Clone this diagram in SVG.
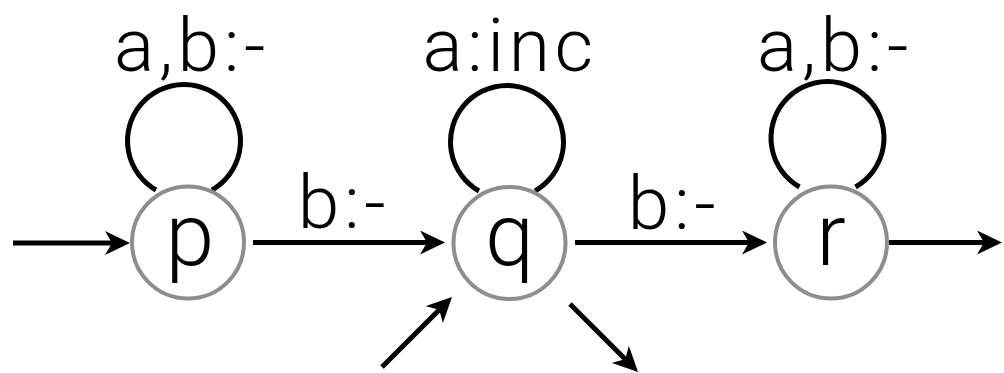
<svg xmlns="http://www.w3.org/2000/svg" width="1004" height="373" viewBox="0 0 1004 373">
<style>
.node{fill:#fff;stroke:#8c8e91;stroke-width:4}
.nl{font-family:Roboto,"Liberation Sans",Arial,sans-serif;font-weight:300;font-size:88px;fill:#000;text-anchor:middle}
.lbl{font-family:Roboto,"Liberation Sans",Arial,sans-serif;font-weight:300;font-size:75px;letter-spacing:4.5px;fill:#000;text-anchor:middle}
.edge{fill:none;stroke:#000;stroke-width:5}
</style>
<defs>
<marker id="ah" viewBox="0 0 25 24" refX="7" refY="12" markerWidth="25" markerHeight="24" markerUnits="userSpaceOnUse" orient="auto">
<path d="M0,0 L25,12 L0,24 L7,12 Z" fill="#000"/>
</marker>
</defs>
<g id="connectors">
<path class="edge" d="M156,190 A56.5,56.5 0 1 1 212,190"/>
<path class="edge" d="M479,191 A56.5,56.5 0 1 1 535,191"/>
<path class="edge" d="M799.5,187 A56.5,56.5 0 1 1 855.5,187"/>
<line class="edge" x1="13" y1="243" x2="112" y2="243" marker-end="url(#ah)"/>
<line class="edge" x1="253" y1="242.5" x2="427" y2="242.5" marker-end="url(#ah)"/>
<line class="edge" x1="575" y1="242.5" x2="749" y2="242.5" marker-end="url(#ah)"/>
<line class="edge" x1="889" y1="242.5" x2="984" y2="242.5" marker-end="url(#ah)"/>
<line class="edge" x1="382" y1="367" x2="439.3" y2="309.7" marker-end="url(#ah)"/>
<line class="edge" x1="570" y1="304" x2="625.3" y2="359.3" marker-end="url(#ah)"/>
<text class="lbl" x="192" y="71">a,b:-</text>
<text class="lbl" x="510" y="71">a:inc</text>
<text class="lbl" x="835" y="71">a,b:-</text>
<text class="lbl" x="344" y="228">b:-</text>
<text class="lbl" x="674" y="229">b:-</text>
</g>
<g id="node-p">
<circle class="node" cx="188" cy="242.5" r="56"/>
<text class="nl" x="190" y="265">p</text>
</g>
<g id="node-q">
<circle class="node" cx="509.5" cy="243" r="56"/>
<text class="nl" x="509.5" y="265">q</text>
</g>
<g id="node-r">
<circle class="node" cx="831" cy="242.5" r="56"/>
<text class="nl" x="831" y="265">r</text>
</g>
</svg>
